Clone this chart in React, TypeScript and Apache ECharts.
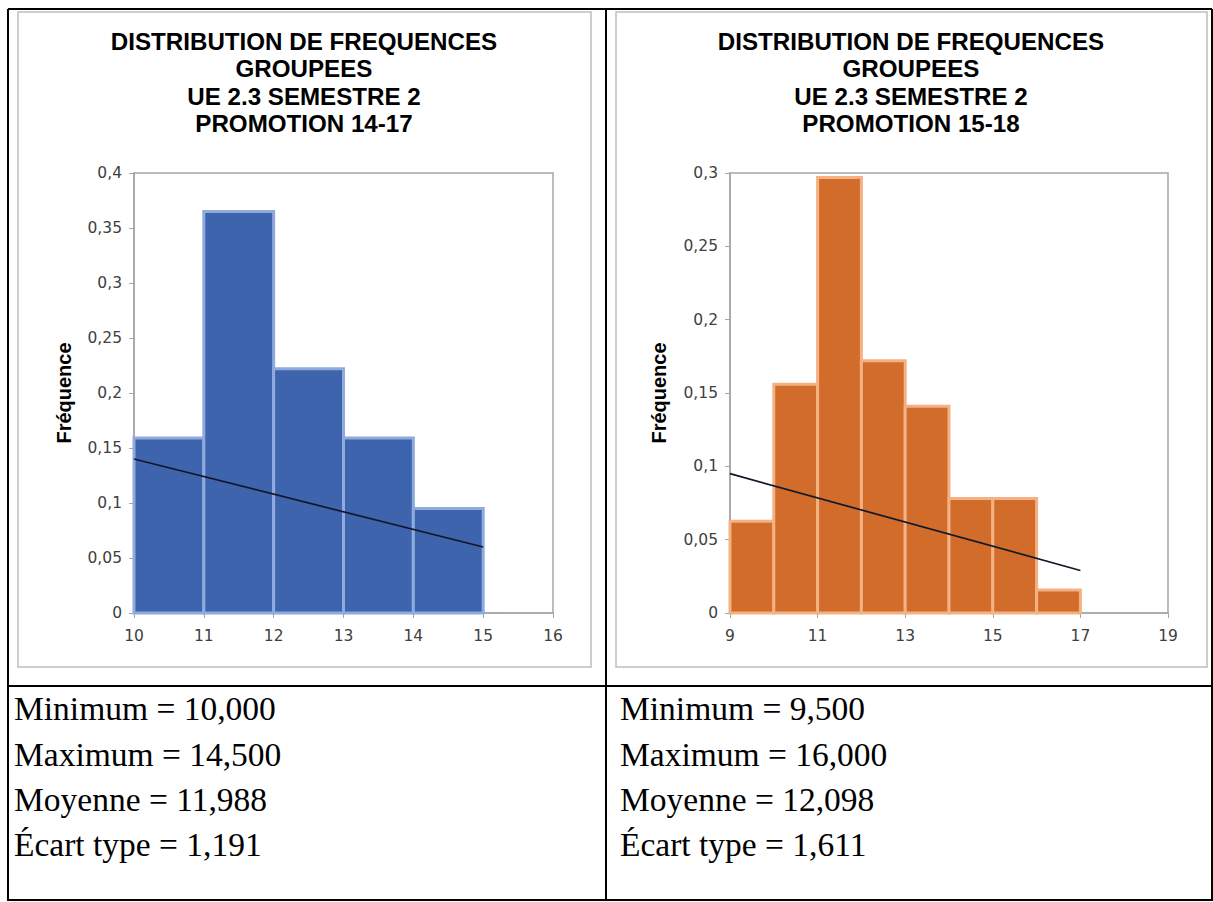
import React, { useEffect, useRef } from "react";
import * as echarts from "echarts";

// ---------- DATA ----------
const TITLE_LEFT = ["DISTRIBUTION DE FREQUENCES", "GROUPEES", "UE 2.3 SEMESTRE 2", "PROMOTION 14-17"];
const TITLE_RIGHT = ["DISTRIBUTION DE FREQUENCES", "GROUPEES", "UE 2.3 SEMESTRE 2", "PROMOTION 15-18"];
const Y_NAME = "Fréquence";

const LEFT_BIN_START = [10, 11, 12, 13, 14];
const LEFT_BIN_END = [11, 12, 13, 14, 15];
const LEFT_FREQ = [0.159, 0.365, 0.222, 0.159, 0.095];
const LEFT_TREND_X = [10, 15];
const LEFT_TREND_Y = [0.14, 0.06];
const LEFT_X_TICKS = [10, 11, 12, 13, 14, 15, 16];

const RIGHT_BIN_START = [9, 10, 11, 12, 13, 14, 15, 16];
const RIGHT_BIN_END = [10, 11, 12, 13, 14, 15, 16, 17];
const RIGHT_FREQ = [0.0625, 0.156, 0.297, 0.172, 0.141, 0.078, 0.078, 0.0156];
const RIGHT_TREND_X = [9, 17];
const RIGHT_TREND_Y = [0.095, 0.029];
const RIGHT_X_TICKS = [9, 11, 13, 15, 17, 19];

const STATS_LEFT = ["Minimum = 10,000", "Maximum = 14,500", "Moyenne = 11,988", "Écart type = 1,191"];
const STATS_RIGHT = ["Minimum = 9,500", "Maximum = 16,000", "Moyenne = 12,098", "Écart type = 1,611"];

// ---------- STYLE ----------
const BLUE_FILL = "#3D64AC";
const BLUE_EDGE = "#8FAADC";
const ORANGE_FILL = "#D16C2B";
const ORANGE_EDGE = "#F4B183";
const AXIS_GRAY = "#A6A6A6";
const LABEL_COLOR = "#404040";
const SANS = "'Liberation Sans', Arial, sans-serif";
const SERIF = "'Liberation Serif', 'Times New Roman', serif";
const TICK_FONT = "'DejaVu Sans', sans-serif";

const fmtY = (v: number) => (v === 0 ? "0" : String(parseFloat(v.toFixed(2))).replace(".", ","));

function histSeries(idx: number, starts: number[], ends: number[], freq: number[], fill: string, edge: string) {
  return {
    type: "custom",
    xAxisIndex: idx,
    yAxisIndex: idx,
    z: 3,
    data: starts.map((s, i) => [s, ends[i], freq[i]]),
    encode: { x: [0, 1], y: 2 },
    renderItem: (_p: any, api: any) => {
      const a = api.coord([api.value(0), api.value(2)]);
      const b = api.coord([api.value(1), 0]);
      return {
        type: "rect",
        shape: { x: a[0], y: a[1], width: b[0] - a[0], height: b[1] - a[1] },
        style: { fill, stroke: edge, lineWidth: 3 },
      };
    },
  };
}

function trendSeries(idx: number, xs: number[], ys: number[]) {
  return {
    type: "line",
    xAxisIndex: idx,
    yAxisIndex: idx,
    z: 5,
    symbol: "none",
    data: xs.map((x, i) => [x, ys[i]]),
    lineStyle: { color: "#111827", width: 1.7 },
  };
}

function xAxis(idx: number, min: number, max: number, ticks: number[]) {
  return {
    type: "value",
    gridIndex: idx,
    min,
    max,
    splitLine: { show: false },
    axisLine: { show: true, lineStyle: { color: AXIS_GRAY, width: 1.5 } },
    axisTick: { show: true, length: 5, customValues: ticks, lineStyle: { color: AXIS_GRAY } },
    axisLabel: { customValues: ticks, margin: 15, color: LABEL_COLOR, fontSize: 15.5, fontFamily: TICK_FONT },
  };
}

function yAxis(idx: number, max: number, gap: number) {
  return {
    type: "value",
    gridIndex: idx,
    min: 0,
    max,
    interval: 0.05,
    name: Y_NAME,
    nameLocation: "middle",
    nameRotate: 90,
    nameGap: gap,
    nameTextStyle: { fontFamily: SANS, fontWeight: "bold", fontSize: 20, color: "#000" },
    splitLine: { show: false },
    axisLine: { show: true, lineStyle: { color: AXIS_GRAY, width: 1.5 } },
    axisTick: { show: true, length: 5, lineStyle: { color: AXIS_GRAY } },
    axisLabel: { formatter: fmtY, margin: 12, color: LABEL_COLOR, fontSize: 15.5, fontFamily: TICK_FONT },
  };
}

function titleText(cx: number, lines: string[]) {
  return {
    type: "text",
    x: cx,
    y: 28,
    scaleX: 1.05,
    style: {
      text: lines.join("\n"),
      fontFamily: SANS,
      fontWeight: "bold",
      fontSize: 23,
      lineHeight: 27.5,
      align: "center",
      verticalAlign: "top",
      fill: "#000",
    },
  };
}

const STAT_Y = [708, 754, 799, 844];

function statTexts(x: number, lines: string[]) {
  return lines.map((t, i) => ({
    type: "text",
    x,
    y: STAT_Y[i],
    style: { text: t, fontFamily: SERIF, fontSize: 33.5, align: "left", verticalAlign: "middle", fill: "#000" },
  }));
}

function line(x1: number, y1: number, x2: number, y2: number, w = 2) {
  return { type: "line", shape: { x1, y1, x2, y2 }, style: { stroke: "#000", lineWidth: w } };
}

export default function App() {
  const ref = useRef<HTMLDivElement>(null);
  useEffect(() => {
    if (!ref.current) return;
    const chart = echarts.init(ref.current, undefined, { renderer: "svg" });
    chart.setOption({
      animation: false,
      backgroundColor: "#fff",
      grid: [
        { left: 134, top: 173, width: 419, height: 440, show: true, borderColor: AXIS_GRAY, borderWidth: 1.5, containLabel: false },
        { left: 730, top: 173, width: 438, height: 440, show: true, borderColor: AXIS_GRAY, borderWidth: 1.5, containLabel: false },
      ],
      xAxis: [xAxis(0, 10, 16, LEFT_X_TICKS), xAxis(1, 9, 19, RIGHT_X_TICKS)],
      yAxis: [yAxis(0, 0.4, 60), yAxis(1, 0.3, 61)],
      series: [
        histSeries(0, LEFT_BIN_START, LEFT_BIN_END, LEFT_FREQ, BLUE_FILL, BLUE_EDGE),
        trendSeries(0, LEFT_TREND_X, LEFT_TREND_Y),
        histSeries(1, RIGHT_BIN_START, RIGHT_BIN_END, RIGHT_FREQ, ORANGE_FILL, ORANGE_EDGE),
        trendSeries(1, RIGHT_TREND_X, RIGHT_TREND_Y),
      ],
      graphic: [
        { type: "rect", shape: { x: 18, y: 12, width: 573, height: 655 }, style: { fill: "none", stroke: "#BFBFBF", lineWidth: 1.5 } },
        { type: "rect", shape: { x: 616, y: 12, width: 591, height: 655 }, style: { fill: "none", stroke: "#BFBFBF", lineWidth: 1.5 } },
        line(8, 9, 1212, 9),
        line(8, 9, 8, 901),
        line(1212, 9, 1212, 901),
        line(8, 900, 1212, 900),
        line(606, 9, 606, 901),
        line(8, 686, 1212, 686),
        titleText(304, TITLE_LEFT),
        titleText(911, TITLE_RIGHT),
        ...statTexts(14, STATS_LEFT),
        ...statTexts(620, STATS_RIGHT),
      ],
    });
    return () => chart.dispose();
  }, []);
  return <div ref={ref} style={{ position: "absolute", left: 0, top: 0, width: 1213, height: 902 }} />;
}
